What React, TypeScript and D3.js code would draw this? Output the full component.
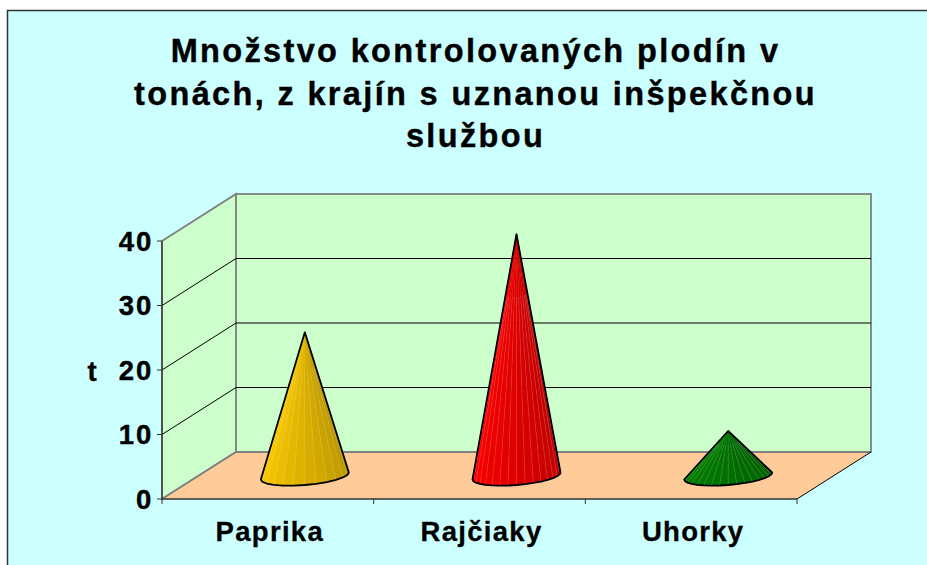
import React from "react";
import * as d3 from "d3";

const titleLines = ["Množstvo kontrolovaných plodín v", "tonách, z krajín s uznanou inšpekčnou", "službou"];
const categories = ["Paprika", "Rajčiaky", "Uhorky"];
const values = [22.2, 37.4, 6.9];
const lightColors = ["#FFCC00", "#FF0000", "#008000"];
const darkColors = ["#B89400", "#BC0000", "#005F00"];
const yTicks = [0, 10, 20, 30, 40];
const yAxisTitle = "t";

const W = 927, H = 565;
const front = { x0: 162, x1: 797, y0: 499, y1: 241 };
const depth = { dx: 74, dy: -47 };
const FONT = "'Liberation Sans', Arial, sans-serif";

const y = d3.scaleLinear().domain([0, 40]).range([front.y0, front.y1]);
const x = d3.scaleBand<string>().domain(categories).range([front.x0, front.x1]);
const line = d3.line<[number, number]>();

function Cone({ i }: { i: number }) {
  const cx = x(categories[i])! + x.bandwidth() / 2 + depth.dx / 2;
  const cy = front.y0 + depth.dy / 2 + 0.5;
  const tipY = y(values[i]) + depth.dy / 2;
  const rx = 44, ry = 9, skew = 3.5;
  const n = i === 0 ? 12 : 16;
  const ts = d3.range(n + 1).map((k) => Math.PI - (k / n) * Math.PI);
  const pts: [number, number][] = ts.map((t) => [
    cx + rx * Math.cos(t),
    cy + ry * Math.sin(t) - skew * Math.cos(t),
  ]);
  const color = d3.scaleLinear<string>().domain([0, n - 1]).range([lightColors[i], darkColors[i]]).interpolate(d3.interpolateRgb);
  const tip: [number, number] = [cx, tipY];
  return (
    <g>
      {pts.slice(0, -1).map((p, k) => (
        <path key={k} d={line([tip, p, pts[k + 1]]) + "Z"} fill={color(k)} stroke={color(k)} strokeWidth={0.4} />
      ))}
      {pts.slice(1, -1).map((p, k) => (
        <path key={k} d={line([[tip[0] + (p[0] - tip[0]) * 0.25, tip[1] + (p[1] - tip[1]) * 0.25], p])!} stroke="#fff" strokeOpacity={0.15} strokeWidth={0.8} fill="none" />
      ))}
      <path d={line([tip, ...pts]) + "Z"} fill="none" stroke="#000" strokeWidth={1.8} strokeLinejoin="round" />
    </g>
  );
}

export default function App() {
  const bx = front.x0 + depth.dx;
  const topY = y(40) + depth.dy;
  return (
    <svg width={W} height={H} style={{ position: "fixed", left: 0, top: 0, display: "block" }} fontFamily={FONT}>
      <rect width={W} height={H} fill="#fff" />
      <rect x={7.5} y={10.5} width={W + 20} height={H} fill="#CCFFFF" stroke="#333" strokeWidth={1.5} />
      {titleLines.map((t, i) => (
        <text key={i} x={475.5} y={62 + i * 42.6} textAnchor="middle" fontSize={32.5} fontWeight="bold" letterSpacing={2.35} fill="#000" stroke="#000" strokeWidth={0.4}>{t}</text>
      ))}
      {/* walls */}
      <path d={line([[front.x0, front.y0], [front.x0, y(40)], [bx, topY], [bx, front.y0 + depth.dy]]) + "Z"} fill="#CCFFCC" stroke="#808080" strokeWidth={1.8} />
      <rect x={bx} y={topY} width={front.x1 - front.x0} height={front.y0 - y(40)} fill="#CCFFCC" stroke="#808080" strokeWidth={1.8} />
      <path d={line([[front.x0, front.y0], [bx, front.y0 + depth.dy], [front.x1 + depth.dx, front.y0 + depth.dy], [front.x1, front.y0]]) + "Z"} fill="#FFCC99" />
      <path d={line([[front.x0, front.y0], [bx, front.y0 + depth.dy], [front.x1 + depth.dx, front.y0 + depth.dy]])!} stroke="#808080" strokeWidth={1.8} fill="none" />
      <path d={line([[front.x1, front.y0], [front.x1 + depth.dx, front.y0 + depth.dy]])!} stroke="#000" strokeWidth={1} fill="none" />
      {/* gridlines */}
      {yTicks.slice(1, -1).map((v) => (
        <path key={v} d={line([[front.x0, y(v)], [bx, y(v) + depth.dy], [front.x1 + depth.dx, y(v) + depth.dy]])!} fill="none" stroke="#000" strokeWidth={1} />
      ))}
      {/* axes */}
      <path d={line([[front.x0, y(40)], [front.x0, front.y0], [front.x1, front.y0]])!} fill="none" stroke="#333" strokeWidth={1.3} />
      {yTicks.map((v) => (
        <g key={v}>
          <line x1={front.x0 - 5} x2={front.x0} y1={y(v)} y2={y(v)} stroke="#333" strokeWidth={1} />
          <text x={153} y={y(v) + 9.5} textAnchor="end" fontSize={27.5} fontWeight="bold" letterSpacing={1.8} stroke="#000" strokeWidth={0.4}>{v}</text>
        </g>
      ))}
      {[...categories.map((c) => x(c)!), front.x1].map((t, i) => (
        <line key={i} x1={t} x2={t} y1={front.y0} y2={front.y0 + 5} stroke="#333" strokeWidth={1} />
      ))}
      <text x={92} y={381} textAnchor="middle" fontSize={27.5} fontWeight="bold" stroke="#000" strokeWidth={0.4}>{yAxisTitle}</text>
      {categories.map((c, i) => <Cone key={c} i={i} />)}
      {categories.map((c) => (
        <text key={c} x={x(c)! + x.bandwidth() / 2 + 2} y={541} textAnchor="middle" fontSize={27.5} fontWeight="bold" letterSpacing={1.3} stroke="#000" strokeWidth={0.3}>{c}</text>
      ))}
    </svg>
  );
}
